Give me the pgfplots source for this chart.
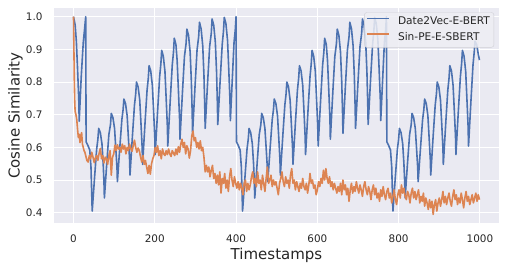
\documentclass[border=0pt]{standalone}
\usepackage{pgfplots}
\pgfplotsset{compat=1.18}
\usepackage{fontspec}
\setmainfont{DejaVu Sans}
\definecolor{bgcol}{HTML}{EAEAF2}
\definecolor{legfill}{HTML}{EEEEF4}
\definecolor{sbblue}{HTML}{4C72B0}
\definecolor{sborange}{HTML}{DD8452}
\definecolor{txt}{HTML}{262626}
\definecolor{legframe}{HTML}{D0D0D6}
\pgfplotsset{
  sbline/.style={line width=1.6bp, line join=round,
    legend image code/.code={\draw[##1, line width=1.6bp] (0bp,3.8bp) -- (22bp,3.8bp);}},
}
\begin{document}
\begin{tikzpicture}
\begin{axis}[
  scale only axis, width=445bp, height=215.3bp,
  at={(0,0)}, anchor=south west,
  xmin=-48, xmax=1047, ymin=0.3676, ymax=1.0266,
  axis background/.style={fill=bgcol},
  axis line style={draw=none},
  major tick length=0pt,
  tick style={draw=none},
  grid=major, major grid style={white, line width=1bp},
  xtick={0,200,400,600,800,1000},
  ytick={0.4,0.5,0.6,0.7,0.8,0.9,1.0},
  /pgf/number format/assume math mode=true,
  /pgf/number format/1000 sep={},
  yticklabel style={/pgf/number format/fixed, /pgf/number format/fixed zerofill, /pgf/number format/precision=1, xshift=-11.3bp},
  xticklabel style={yshift=-11bp},
  tick label style={font=\fontsize{10.4bp}{12bp}\selectfont, text=txt, inner sep=0pt},
  xlabel={Timestamps}, ylabel={Cosine Similarity},
  label style={font=\fontsize{15bp}{18bp}\selectfont, text=txt, inner sep=0pt},
  xlabel style={at={(axis description cs:0.5,0)}, anchor=north, yshift=-24.5bp},
  ylabel style={at={(axis description cs:-0.0697,0.5)}, anchor=south},
  legend cell align=left,
  legend style={at={(0.989,0.98)}, anchor=north east, draw=legframe, fill=legfill,
    fill opacity=0.85, draw opacity=1, text opacity=1, rounded corners=2.5bp,
    inner xsep=2bp, inner ysep=2.5bp, row sep=1.2bp,
    font=\fontsize{10.6bp}{12.5bp}\selectfont, text=txt,
    nodes={inner sep=2bp, text height=7.8bp, text depth=2.5bp},
    /tikz/every odd column/.append style={column sep=6bp}},
]
\addplot[sbblue, sbline] coordinates {
(0,1.0) (4,0.975) (7,0.925) (10,0.84) (13,0.745) (14,0.68) (19,0.816) (24,0.921) (27,0.959) (30,1.0)
(31,0.617) (35,0.607) (40,0.592) (43,0.54) (46,0.405)
(52,0.511) (57,0.595) (60,0.625) (62,0.658) (66,0.645) (70,0.611) (73,0.551) (75,0.492) (76,0.445)
(82,0.554) (87,0.639) (91,0.670) (93,0.704) (97,0.691) (101,0.658) (104,0.599) (107,0.537) (108,0.495)
(114,0.601) (119,0.685) (122,0.715) (124,0.748) (128,0.734) (132,0.697) (135,0.631) (138,0.562) (139,0.515)
(145,0.635) (150,0.729) (153,0.763) (155,0.800) (159,0.785) (163,0.745) (166,0.674) (169,0.598) (170,0.548)
(176,0.675) (181,0.775) (184,0.811) (186,0.850) (190,0.834) (194,0.790) (197,0.714) (200,0.632) (201,0.578)
(207,0.712) (212,0.817) (215,0.856) (217,0.897) (221,0.879) (225,0.833) (228,0.750) (231,0.663) (232,0.604)
(238,0.743) (243,0.852) (246,0.891) (248,0.934) (252,0.915) (255,0.866) (258,0.779) (261,0.687) (262,0.625)
(268,0.767) (273,0.878) (277,0.918) (279,0.962) (283,0.943) (287,0.892) (290,0.802) (292,0.707) (293,0.643)
(299,0.786) (304,0.898) (308,0.939) (310,0.983) (314,0.963) (318,0.911) (321,0.820) (323,0.723) (324,0.658)
(330,0.799) (335,0.909) (339,0.949) (341,0.993) (345,0.974) (349,0.922) (352,0.831) (354,0.735) (355,0.670)
(361,0.808) (366,0.916) (369,0.955) (371,0.998) (375,0.979) (379,0.928) (382,0.840) (385,0.745) (386,0.682)
(391,0.816) (395,0.921) (398,0.959) (400,1.0)
(401,0.617) (405,0.607) (410,0.592) (413,0.54) (416,0.405)
(422,0.511) (427,0.595) (430,0.625) (432,0.658) (436,0.645) (440,0.611) (443,0.551) (445,0.492) (446,0.445)
(452,0.554) (457,0.639) (461,0.670) (463,0.704) (467,0.691) (471,0.658) (474,0.599) (477,0.537) (478,0.495)
(484,0.601) (489,0.685) (492,0.715) (494,0.748) (498,0.734) (502,0.697) (505,0.631) (508,0.562) (509,0.515)
(515,0.635) (520,0.729) (523,0.763) (525,0.800) (529,0.785) (533,0.745) (536,0.674) (539,0.598) (540,0.548)
(546,0.675) (551,0.775) (554,0.811) (556,0.850) (560,0.834) (564,0.790) (567,0.714) (570,0.632) (571,0.578)
(577,0.712) (582,0.817) (585,0.856) (587,0.897) (591,0.879) (595,0.833) (598,0.750) (601,0.663) (602,0.604)
(608,0.743) (613,0.852) (616,0.891) (618,0.934) (622,0.915) (625,0.866) (628,0.779) (631,0.687) (632,0.625)
(638,0.767) (643,0.878) (647,0.918) (649,0.962) (653,0.943) (657,0.892) (660,0.802) (662,0.707) (663,0.643)
(669,0.786) (674,0.898) (678,0.939) (680,0.983) (684,0.963) (688,0.911) (691,0.820) (693,0.723) (694,0.658)
(700,0.799) (705,0.909) (709,0.949) (711,0.993) (715,0.974) (719,0.922) (722,0.831) (724,0.735) (725,0.670)
(731,0.808) (736,0.916) (739,0.955) (741,0.998) (745,0.979) (749,0.928) (752,0.840) (755,0.745) (756,0.682)
(761,0.816) (765,0.921) (768,0.959) (770,1.0)
(771,0.617) (775,0.607) (780,0.592) (783,0.54) (786,0.405)
(792,0.511) (797,0.595) (800,0.625) (802,0.658) (806,0.645) (810,0.611) (813,0.551) (815,0.492) (816,0.445)
(822,0.554) (827,0.639) (831,0.670) (833,0.704) (837,0.691) (841,0.658) (844,0.599) (847,0.537) (848,0.495)
(854,0.601) (859,0.685) (862,0.715) (864,0.748) (868,0.734) (872,0.697) (875,0.631) (878,0.562) (879,0.515)
(885,0.635) (890,0.729) (893,0.763) (895,0.800) (899,0.785) (903,0.745) (906,0.674) (909,0.598) (910,0.548)
(916,0.675) (921,0.775) (924,0.811) (926,0.850) (930,0.834) (934,0.790) (937,0.714) (940,0.632) (941,0.578)
(947,0.712) (952,0.817) (955,0.856) (957,0.897) (961,0.879) (965,0.833) (968,0.750) (971,0.663) (972,0.604)
(978,0.743) (983,0.852) (986,0.891) (988,0.925) (992,0.915) (996,0.885) (999,0.867)
};
\addlegendentry{Date2Vec-E-BERT}
\addplot[sborange, sbline] coordinates {
(0,1.0) (1,0.90) (2,0.80) (3,0.74) (4,0.71) (6,0.70) (8,0.685) (10,0.655) (12,0.63) (14,0.64) (16,0.615) (18,0.635) (20,0.645) (22,0.61) (24,0.60) (26,0.59) (28,0.585) (30,0.575)
(33,0.56) (36,0.555) (39,0.575) (42,0.565) (45,0.585) (48,0.57) (51,0.553) (54,0.568) (57,0.575) (60,0.56) (63,0.582) (66,0.597) (69,0.565) (72,0.575) (75,0.552) (78,0.57) (81,0.565) (84,0.548) (87,0.575) (90,0.59) (93,0.515) (96,0.57) (99,0.58)
(102,0.607) (105,0.59) (108,0.608) (111,0.595) (114,0.6) (117,0.585) (120,0.61) (123,0.595) (126,0.605) (129,0.58) (132,0.6) (135,0.59) (138,0.61) (141,0.596) (144,0.588) (147,0.605) (150,0.622) (153,0.60) (156,0.585) (159,0.598) (162,0.59) (165,0.57) (168,0.555) (171,0.575) (174,0.548) (177,0.56) (180,0.54) (183,0.52) (186,0.545) (189,0.518) (192,0.55) (195,0.565) (198,0.575)
(201,0.6) (204,0.585) (207,0.605) (210,0.575) (213,0.59) (216,0.565) (219,0.595) (222,0.58) (225,0.575) (228,0.59) (231,0.578) (234,0.595) (237,0.58) (240,0.572) (243,0.59) (246,0.582) (249,0.575) (252,0.595) (255,0.578) (258,0.602) (261,0.585) (264,0.61) (267,0.625) (270,0.6) (273,0.615) (276,0.58) (279,0.605) (282,0.595) (285,0.567) (288,0.59) (291,0.635) (294,0.65) (297,0.62)
(300,0.63) (303,0.6) (306,0.615) (309,0.595) (312,0.62) (315,0.59) (318,0.6) (321,0.57) (324,0.525) (327,0.545) (330,0.525) (333,0.54) (336,0.51) (339,0.53) (342,0.545) (345,0.505) (348,0.52) (351,0.49) (354,0.515) (357,0.485) (360,0.525) (363,0.46) (366,0.505) (369,0.49) (372,0.52) (375,0.475) (378,0.5) (381,0.465) (384,0.51) (387,0.535) (390,0.5) (393,0.48) (396,0.51) (399,0.49)
(402,0.475) (405,0.495) (408,0.47) (411,0.49) (414,0.475) (417,0.455) (420,0.49) (423,0.5) (426,0.465) (429,0.49) (432,0.47) (435,0.485) (438,0.51) (441,0.525) (444,0.49) (447,0.505) (450,0.48) (453,0.525) (456,0.49) (459,0.5) (462,0.47) (465,0.515) (468,0.49) (471,0.465) (474,0.505) (477,0.54) (480,0.49) (483,0.5) (486,0.515) (489,0.48) (492,0.5) (495,0.485) (498,0.495)
(501,0.475) (504,0.455) (507,0.49) (510,0.505) (513,0.525) (516,0.495) (519,0.48) (522,0.51) (525,0.49) (528,0.5) (531,0.475) (534,0.515) (537,0.535) (540,0.49) (543,0.5) (546,0.47) (549,0.495) (552,0.48) (555,0.465) (558,0.49) (561,0.475) (564,0.505) (567,0.48) (570,0.47) (573,0.49) (576,0.46) (579,0.485) (582,0.52) (585,0.49) (588,0.5) (591,0.475) (594,0.485) (597,0.455)
(600,0.47) (603,0.495) (606,0.48) (609,0.505) (612,0.49) (615,0.53) (618,0.5) (621,0.535) (624,0.505) (627,0.49) (630,0.51) (633,0.48) (636,0.495) (639,0.47) (642,0.49) (645,0.475) (648,0.46) (651,0.48) (654,0.465) (657,0.49) (660,0.455) (663,0.5) (666,0.47) (669,0.485) (672,0.455) (675,0.475) (678,0.435) (681,0.47) (684,0.49) (687,0.46) (690,0.48) (693,0.465) (696,0.495) (699,0.475)
(702,0.46) (705,0.485) (708,0.47) (711,0.45) (714,0.48) (717,0.495) (720,0.47) (723,0.455) (726,0.48) (729,0.465) (732,0.44) (735,0.47) (738,0.485) (741,0.455) (744,0.475) (747,0.445) (750,0.46) (753,0.435) (756,0.47) (759,0.45) (762,0.48) (765,0.455) (768,0.44) (771,0.465) (774,0.475) (777,0.445) (780,0.46) (783,0.43) (786,0.45) (789,0.47) (792,0.44) (795,0.425) (798,0.455)
(801,0.47) (804,0.445) (807,0.485) (810,0.46) (813,0.475) (816,0.45) (819,0.44) (822,0.465) (825,0.455) (828,0.43) (831,0.46) (834,0.475) (837,0.445) (840,0.465) (843,0.44) (846,0.455) (849,0.47) (852,0.43) (855,0.45) (858,0.435) (861,0.46) (864,0.42) (867,0.445) (870,0.43) (873,0.41) (876,0.44) (879,0.415) (882,0.435) (885,0.395) (888,0.425) (891,0.44) (894,0.405) (897,0.43)
(900,0.445) (903,0.42) (906,0.44) (909,0.465) (912,0.43) (915,0.45) (918,0.425) (921,0.445) (924,0.46) (927,0.435) (930,0.42) (933,0.45) (936,0.47) (939,0.44) (942,0.455) (945,0.425) (948,0.445) (951,0.43) (954,0.46) (957,0.44) (960,0.415) (963,0.445) (966,0.465) (969,0.435) (972,0.45) (975,0.425) (978,0.44) (981,0.455) (984,0.43) (987,0.445) (990,0.46) (993,0.435) (996,0.455) (999,0.44)
};
\addlegendentry{Sin-PE-E-SBERT}
\end{axis}
\pgfresetboundingbox
\path (-54bp,-46.7bp) rectangle (452bp,223.3bp);
\end{tikzpicture}
\end{document}
